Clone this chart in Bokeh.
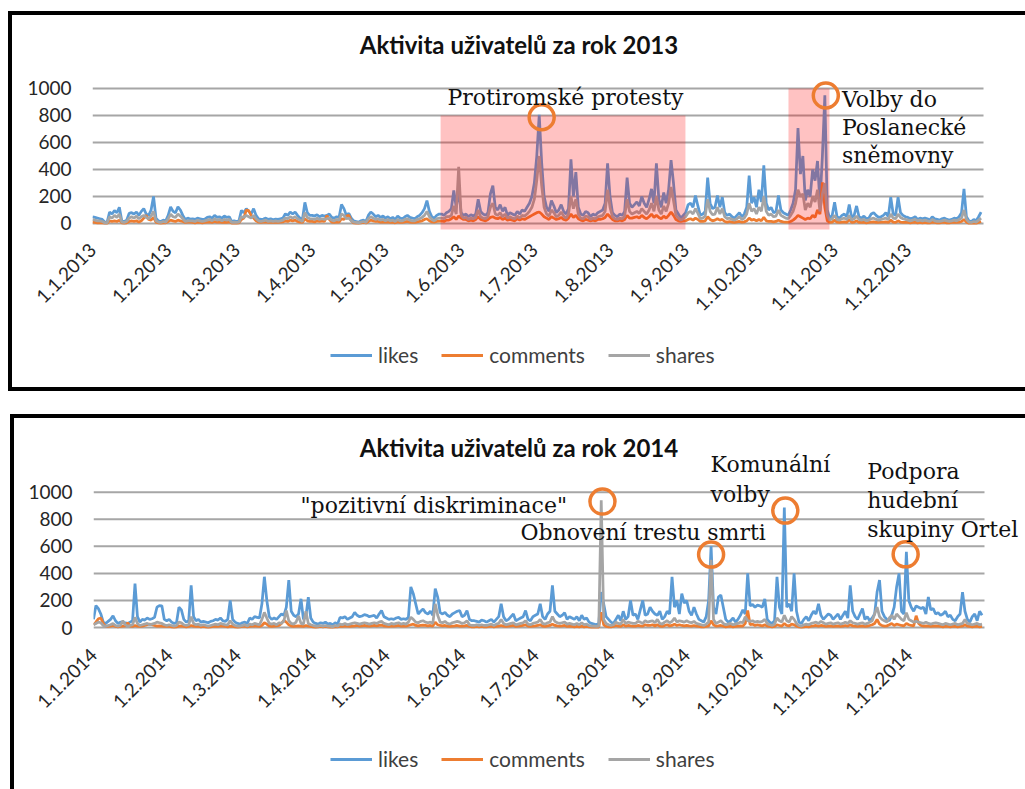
import math
from bokeh.plotting import figure
from bokeh.models import Range1d, FixedTicker, Label, Legend, LegendItem, Spacer
from bokeh.layouts import column, row
from bokeh.embed import file_html
from bokeh.resources import INLINE

BLUE = "#5B9BD5"
ORANGE = "#ED7D31"
GRAY = "#A5A5A5"

month_starts = [0, 31, 59, 90, 120, 151, 181, 212, 243, 273, 304, 334]
y_ticks = [0, 200, 400, 600, 800, 1000]

# ---------------- 2013 (daily values, day 0 = 1.1.2013) ----------------
likes_2013 = [
    50,45,40,35,30,12,10,85,70,95,80,120,20,15,25,75,80,70,85,60,90,110,70,60,100,200,40,20,15,25,20,
    60,123,90,80,123,100,60,30,40,33,35,30,40,35,30,33,46,50,40,60,45,50,40,55,45,50,15,20,
    15,20,97,80,110,90,70,110,60,35,30,33,40,30,35,28,33,30,35,40,72,60,85,70,85,60,40,30,156,80,60,
    60,55,65,50,60,55,60,70,45,40,50,45,141,110,60,75,40,20,15,10,20,25,15,60,85,70,50,60,45,55,
    40,50,35,45,30,55,40,35,50,60,45,40,35,50,60,80,110,170,90,50,40,60,70,70,60,80,90,110,245,120,250,
    80,60,70,50,65,55,70,180,90,70,60,80,220,280,120,100,140,90,120,60,80,70,60,90,70,100,90,120,150,200,
    300,500,805,450,200,120,90,170,130,80,100,140,90,70,110,475,200,380,120,70,60,90,80,50,70,60,80,90,100,150,445,
    200,80,60,50,70,60,90,340,150,120,140,160,130,200,150,120,180,256,150,445,180,120,230,150,250,470,300,100,70,40,60,
    80,140,150,120,207,130,60,70,90,340,150,110,120,207,120,195,80,60,70,50,40,60,80,50,70,120,355,150,195,120,
    250,160,430,150,100,120,80,90,207,100,80,70,60,100,150,250,707,366,500,170,250,200,400,317,463,146,500,950,100,40,60,
    158,50,40,60,70,50,140,45,60,130,50,40,55,35,40,70,80,60,45,50,60,80,50,195,70,60,195,80,60,50,
    45,35,40,50,30,40,35,40,35,25,50,35,30,25,35,40,30,25,30,40,35,50,80,256,50,20,15,30,20,50,85,
]
comments_2013 = [
    10,8,5,5,5,2,2,20,15,20,15,25,5,3,5,15,20,15,20,10,20,40,60,30,25,45,10,5,3,5,5,
    15,25,20,15,25,20,15,8,10,10,8,5,10,8,5,8,10,12,8,15,10,12,8,10,8,12,3,5,
    3,5,30,40,100,95,60,40,20,10,8,10,12,8,10,8,10,8,10,12,20,15,25,20,25,15,10,8,35,20,15,
    15,12,20,15,20,15,60,30,10,8,12,10,35,30,55,60,20,5,3,2,5,8,4,15,25,20,15,15,10,12,
    10,12,8,10,5,12,8,8,12,15,10,8,8,12,15,20,30,35,20,12,10,15,18,20,15,25,25,35,50,30,55,
    40,30,30,20,25,20,30,50,30,25,20,30,45,50,40,35,45,30,40,25,30,25,20,35,25,35,30,40,50,60,
    70,80,85,70,50,40,30,50,40,30,35,45,30,25,40,70,45,60,35,25,20,30,25,20,25,20,30,30,35,45,70,
    50,30,20,20,25,20,30,60,40,40,45,50,40,60,45,35,50,70,45,60,45,35,55,40,60,85,60,30,20,15,20,
    20,30,35,25,40,30,15,15,20,50,30,20,25,35,25,30,15,10,15,10,8,12,15,10,12,20,40,25,30,20,
    30,20,45,20,15,15,12,15,25,15,12,10,10,15,25,40,60,50,40,30,40,35,60,45,100,70,305,120,20,8,10,
    25,10,8,10,12,8,30,8,10,20,8,8,10,5,8,10,12,8,8,10,10,12,8,25,10,8,20,10,8,8,
    8,5,8,10,5,8,5,8,5,5,10,8,5,5,8,8,5,5,8,10,8,10,15,30,10,3,3,5,3,8,15,
]
shares_2013 = [
    30,25,20,20,15,5,5,50,40,60,45,70,10,8,15,40,50,40,55,35,50,60,45,35,55,90,20,10,8,15,10,
    35,70,50,45,70,55,35,15,20,20,20,15,25,20,15,20,25,30,20,35,25,30,20,30,25,30,8,10,
    8,10,50,45,60,50,40,60,35,20,15,20,25,15,20,15,20,15,20,25,40,35,50,40,50,35,25,15,80,45,35,
    35,30,40,30,35,30,35,40,25,20,30,25,70,60,35,40,20,10,8,5,10,15,8,35,50,40,30,35,25,30,
    20,30,20,25,15,30,20,20,30,35,25,20,20,30,35,45,60,90,50,30,20,35,40,40,35,50,50,60,130,70,420,
    60,40,45,30,40,35,45,100,50,40,35,50,120,150,70,60,80,50,70,40,50,40,35,55,40,60,55,70,90,120,
    180,320,500,280,120,70,55,100,80,50,60,85,55,40,70,200,110,180,70,40,35,55,50,30,40,35,50,55,60,90,250,
    120,50,35,30,40,35,55,180,90,70,80,90,75,110,90,70,100,150,90,200,100,70,130,90,150,270,170,60,40,25,35,
    50,80,90,70,110,75,35,40,55,180,90,65,70,120,70,110,50,35,40,30,25,35,50,30,40,70,150,90,110,70,
    120,90,200,90,60,70,50,55,100,60,50,40,35,60,90,150,250,200,220,100,150,120,200,160,250,90,220,300,60,25,35,
    60,30,25,35,40,30,60,25,35,55,30,25,30,20,25,35,40,30,25,30,35,40,30,70,40,35,70,45,35,30,
    25,20,25,30,20,25,20,25,20,15,30,20,15,15,20,25,20,15,20,25,20,30,40,100,30,10,8,15,10,25,40,
]

# ---------------- 2014 (daily values, day 0 = 1.1.2014) ----------------
likes_2014 = [
    60,162,140,100,40,30,45,60,87,50,30,40,35,35,30,40,50,325,80,40,60,55,70,60,65,75,150,162,160,60,50,
    60,40,30,35,150,130,60,40,50,312,80,50,60,40,45,40,35,45,50,60,55,70,50,45,60,200,60,40,
    30,25,35,40,30,70,60,80,75,70,175,375,200,80,60,70,60,80,100,90,150,350,120,90,80,100,212,60,80,225,70,
    40,30,25,35,30,40,25,30,20,35,25,75,70,80,60,70,80,112,90,80,85,95,90,80,85,90,70,100,125,80,
    70,60,65,60,70,75,60,65,60,75,300,250,175,100,120,137,110,100,120,90,287,225,110,100,112,90,80,100,110,120,125,
    80,90,125,60,50,50,45,40,55,50,40,50,60,40,60,80,175,80,50,60,80,100,50,60,70,80,125,60,50,80,
    90,100,175,80,60,100,120,312,120,100,80,90,110,60,80,70,60,80,50,90,60,70,40,30,25,20,30,262,175,80,60,
    40,30,60,90,50,120,60,80,200,90,100,60,130,200,90,100,150,120,100,90,120,60,80,120,100,375,150,200,100,250,180,
    200,120,90,150,100,60,50,40,80,200,600,150,100,225,240,150,60,40,50,70,40,60,90,130,100,400,160,170,150,165,
    160,150,212,60,40,30,50,375,150,100,887,150,175,120,400,120,40,30,60,80,50,90,120,100,175,90,60,80,100,90,60,
    80,100,60,90,120,70,312,120,80,60,100,140,60,80,50,70,100,262,350,120,80,60,50,90,150,300,400,120,100,560,
    200,150,120,160,150,140,150,100,225,130,140,100,110,90,100,120,80,90,60,50,80,100,262,120,60,40,80,100,50,120,90,
]
comments_2014 = [
    20,40,65,70,30,10,8,10,15,8,5,8,10,12,35,10,8,15,10,8,10,15,20,25,20,15,10,12,10,8,8,
    8,5,3,5,10,12,8,5,8,15,10,8,10,5,8,5,3,5,8,10,8,12,10,8,5,10,8,5,
    3,5,8,10,5,8,10,12,10,8,15,35,25,10,8,10,12,15,30,52,40,20,10,8,10,12,10,8,15,10,8,
    5,3,5,8,5,8,5,3,2,5,5,10,8,12,10,8,10,12,15,10,12,15,12,10,12,15,12,15,18,12,
    10,8,12,10,12,15,10,12,10,15,20,25,15,12,15,18,15,12,15,10,40,20,15,12,15,10,8,10,12,15,10,
    10,12,15,8,5,5,8,5,8,5,5,8,10,5,8,10,15,10,8,10,12,15,8,10,12,15,20,10,8,10,
    12,15,20,10,8,12,15,25,15,12,10,12,15,8,10,8,5,8,5,10,5,8,5,3,3,2,3,112,20,8,5,
    5,8,15,10,8,20,10,15,12,10,10,15,12,10,20,15,15,20,12,20,10,8,15,20,12,15,25,15,20,15,12,
    15,12,10,15,10,8,5,5,8,12,50,20,10,12,15,10,5,8,10,5,8,10,12,10,30,125,20,25,15,20,
    15,12,20,10,8,5,8,20,15,10,30,15,12,25,20,10,5,3,5,8,5,10,12,15,10,15,12,8,10,12,8,
    10,12,8,10,15,10,20,12,10,8,10,12,8,10,15,20,30,60,25,15,10,12,20,30,15,25,20,15,12,30,
    20,15,12,87,30,15,10,12,10,8,10,12,10,8,5,10,8,5,8,10,5,8,10,20,10,8,5,8,10,5,8,
]
shares_2014 = [
    20,30,40,35,15,10,15,20,30,15,10,15,50,20,10,15,20,75,30,15,20,25,30,20,25,30,40,35,30,20,15,
    20,15,10,15,40,35,20,15,20,80,30,20,25,15,20,15,10,15,20,25,20,30,25,20,20,50,25,15,
    10,10,15,20,10,25,20,30,25,20,60,112,70,30,25,30,20,35,30,50,125,50,30,25,40,85,30,25,120,30,20,
    15,10,10,15,10,15,10,10,5,15,10,25,20,30,20,25,30,35,30,25,30,35,30,25,30,35,30,40,45,30,
    25,20,30,25,30,35,25,30,25,40,76,60,40,35,45,50,40,35,40,30,175,90,40,35,45,30,25,35,40,45,40,
    30,35,50,20,15,15,20,15,20,15,15,20,25,15,25,30,60,30,20,25,30,35,20,25,30,35,50,25,20,30,
    35,40,60,30,25,35,40,80,45,35,30,35,40,25,30,25,20,30,20,35,20,25,15,10,10,8,10,940,60,30,20,
    15,20,40,30,25,60,30,40,35,30,30,45,40,30,50,40,45,50,35,60,30,25,40,50,35,45,70,40,50,45,40,
    50,40,35,45,30,25,20,15,25,40,500,60,30,40,50,30,20,25,30,20,25,30,40,35,80,50,45,50,40,45,
    40,45,60,30,20,15,25,70,50,40,90,50,40,80,60,30,15,10,20,25,20,30,35,40,30,45,35,25,30,35,25,
    30,35,25,30,40,30,50,35,30,25,30,35,25,30,40,50,100,150,80,60,50,40,70,90,60,100,80,60,50,110,
    60,50,40,45,40,35,30,40,30,25,30,35,30,25,20,30,25,20,25,30,20,25,30,60,30,25,20,25,30,20,25,
]

# highlighted periods (2013) and marked events
hl13_start = [142.6, 285.1]
hl13_end = [242.9, 301.9]
hl13_top = [800, 1000]
hl13_bottom = [-44, -44]

ev13_days = [184, 300.4]
ev13_vals = [787, 948]
ev14_days = [208.5, 253, 283.4, 332.7]
ev14_vals = [931, 539, 864, 541]

notes13 = [("Protiromské protesty", 145.4, 933),
           ("Volby do", 307.0, 916),
           ("Poslanecké", 307.0, 711),
           ("sněmovny", 307.0, 500)]
notes14 = [("\"pozitivní diskriminace\"", 84.8, 899),
           ("Obnovení trestu smrti", 174.9, 702),
           ("Komunální", 252.8, 1207),
           ("volby", 252.8, 986),
           ("Podpora", 317.0, 1150),
           ("hudební", 317.0, 936),
           ("skupiny Ortel", 317.0, 722)]


def build(year, likes, comments, shares, x_hi, y_lo, y_hi, mb_left, mb_bottom, width, height,
          ev_days, ev_vals, notes, title_xy, hl=None):
    p = figure(width=width, height=height, x_range=Range1d(0, x_hi), y_range=Range1d(y_lo, y_hi),
               output_backend="svg", toolbar_location=None, title=None,
               min_border_left=mb_left, min_border_right=0, min_border_top=0, min_border_bottom=mb_bottom,
               outline_line_color=None, background_fill_color="white", border_fill_color="white")

    n = len(likes)
    p.segment(x0=[0] * len(y_ticks), x1=[n] * len(y_ticks), y0=y_ticks, y1=y_ticks,
              line_color="#A6A6A6", line_width=2)

    r1 = p.line(x=list(range(len(likes))), y=likes, line_color=BLUE, line_width=2.75)
    r2 = p.line(x=list(range(len(comments))), y=comments, line_color=ORANGE, line_width=2.75)
    r3 = p.line(x=list(range(len(shares))), y=shares, line_color=GRAY, line_width=2.75)

    if hl is not None:
        p.quad(left=hl[0], right=hl[1], top=hl[2], bottom=hl[3],
               fill_color="#FF0000", fill_alpha=0.24, line_color=None)

    p.scatter(x=ev_days, y=ev_vals, marker="circle", size=25, fill_color=None,
              line_color=ORANGE, line_width=3.5)

    for txt, x, y in notes:
        p.add_layout(Label(x=x, y=y, text=txt, text_font="DejaVu Serif", text_font_size="22px",
                           text_color="#111111", text_baseline="alphabetic", text_align="left"))

    p.add_layout(Label(x=title_xy[0], y=title_xy[1], text=f"Aktivita uživatelů za rok {year}",
                       text_font="Lato", text_font_size="24px", text_font_style="bold",
                       text_color="#111111", text_baseline="alphabetic", text_align="center"))

    p.xaxis.ticker = FixedTicker(ticks=month_starts)
    p.xaxis.major_label_overrides = {d: f"1.{i + 1}.{year}" for i, d in enumerate(month_starts)}
    p.xaxis.major_label_orientation = math.pi / 4
    p.xaxis.major_label_standoff = 15
    p.yaxis.ticker = FixedTicker(ticks=y_ticks)
    p.yaxis.major_label_standoff = 21
    for ax in (p.xaxis, p.yaxis):
        ax.axis_line_color = None
        ax.major_tick_line_color = None
        ax.minor_tick_line_color = None
        ax.major_tick_out = 0
        ax.major_tick_in = 0
        ax.major_label_text_font = "Lato"
        ax.major_label_text_font_size = "19px"
        ax.major_label_text_color = "#262626"
    p.xgrid.visible = False
    p.ygrid.visible = False
    return p


def legend_fig(width, height, loc):
    lf = figure(width=width, height=height, x_range=Range1d(0, 1), y_range=Range1d(0, 1),
                output_backend="svg", toolbar_location=None, title=None,
                x_axis_type=None, y_axis_type=None, min_border=0,
                outline_line_color=None, background_fill_color="white", border_fill_color="white")
    nan = [float("nan")]
    lr1 = lf.line(x=nan, y=nan, line_color=BLUE, line_width=3)
    lr2 = lf.line(x=nan, y=nan, line_color=ORANGE, line_width=3)
    lr3 = lf.line(x=nan, y=nan, line_color=GRAY, line_width=3)
    legend = Legend(items=[LegendItem(label="likes", renderers=[lr1]),
                           LegendItem(label="comments", renderers=[lr2]),
                           LegendItem(label="shares", renderers=[lr3])],
                    orientation="horizontal", location=loc,
                    glyph_width=42, glyph_height=20, label_standoff=6, spacing=23,
                    padding=0, margin=0, border_line_color=None, background_fill_alpha=0,
                    label_text_font="Lato", label_text_font_size="21px", label_text_color="#404040")
    lf.add_layout(legend)
    return lf


def black(w, h):
    return Spacer(width=w, height=h, styles={"background-color": "#000000"})


p1 = build(2013, likes_2013, comments_2013, shares_2013, 382.2, -59.26, 1540.74, 80, 100, 1013, 316,
           ev13_days, ev13_vals, notes13, (174.7, 1326),
           hl=(hl13_start, hl13_end, hl13_top, hl13_bottom))
l1 = legend_fig(1013, 56, (238, 20))

p2 = build(2014, likes_2014, comments_2014, shares_2014, 381.8, -66.5, 1544.7, 79, 100, 1011, 318,
           ev14_days, ev14_vals, notes14, (174.3, 1333))
l2 = legend_fig(1011, 53, (237, 18))

box1 = row(Spacer(width=8, height=380), black(4, 380),
           column(black(1013, 4), p1, l1, black(1013, 4)))
box2 = row(Spacer(width=10, height=375), black(4, 375),
           column(black(1011, 4), p2, l2))

layout = column(Spacer(width=10, height=11), box1, Spacer(width=10, height=23), box2)
open("out.html", "w").write(file_html(layout, INLINE))
